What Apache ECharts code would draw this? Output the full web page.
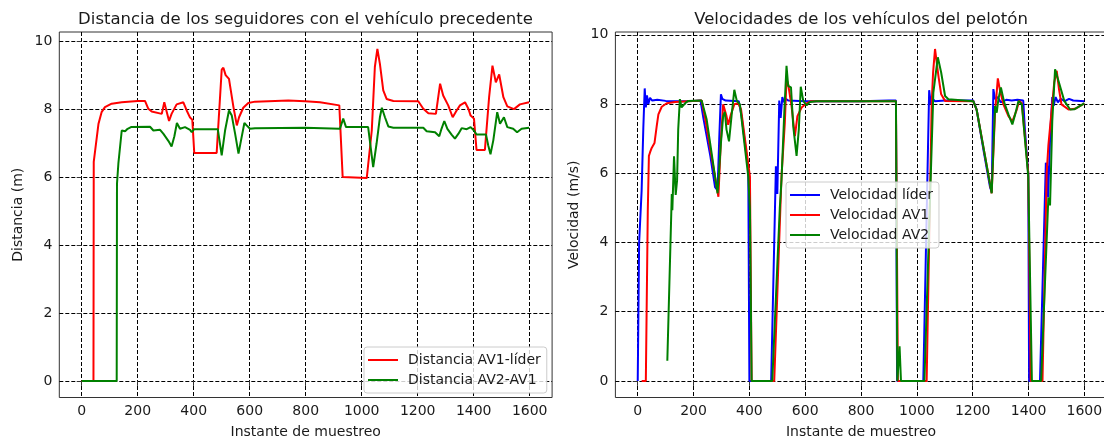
<!DOCTYPE html>
<html>
<head>
<meta charset="utf-8">
<script src="https://cdn.jsdelivr.net/npm/echarts@6/dist/echarts.min.js"></script>
<style>
html,body{margin:0;padding:0;background:#fff;}
#chart{width:1104px;height:439px;}
</style>
</head>
<body>
<div id="chart"></div>
<script>
// ---------- data ----------
const xTicks = [0, 200, 400, 600, 800, 1000, 1200, 1400, 1600];
const yTicks = [0, 2, 4, 6, 8, 10];

// Left: distances
const distAV1X = [0,42,43,48,60,71,83,107,143,200,226,238,250,286,295,304,312,321,339,363,375,387,395,402,482,500,506,514,521,526,542,554,562,577,595,619,738,798,851,920,932,934,1018,1036,1047,1056,1065,1077,1089,1113,1202,1220,1238,1265,1280,1291,1309,1325,1339,1351,1369,1381,1389,1401,1410,1440,1455,1467,1479,1491,1506,1520,1544,1565,1598];
const distAV1Y = [0,0,6.45,6.78,7.57,7.91,8.06,8.16,8.2,8.24,8.24,8.01,7.93,7.86,8.2,7.91,7.65,7.86,8.14,8.2,7.96,7.75,7.69,6.71,6.71,9.16,9.22,9.0,9.02,8.89,8.06,7.52,7.76,8.04,8.18,8.22,8.25,8.23,8.2,8.11,6.0,5.97,5.97,7.37,9.24,9.77,9.33,8.55,8.3,8.24,8.23,8.01,7.88,7.86,8.75,8.4,8.11,7.76,7.96,8.11,8.2,8.01,7.81,7.72,6.8,6.8,8.35,9.28,8.79,9.02,8.35,8.08,8.0,8.14,8.2];

const distAV2X = [0,125,126,131,143,149,155,164,176,244,256,280,292,310,321,331,340,351,369,387,393,402,486,500,512,526,536,548,560,569,581,589,601,619,798,922,934,944,1023,1032,1041,1053,1065,1072,1083,1095,1113,1220,1232,1262,1277,1285,1295,1306,1321,1333,1345,1357,1375,1389,1401,1410,1444,1452,1460,1470,1484,1494,1508,1520,1541,1555,1571,1598];
const distAV2Y = [0,0,5.8,6.4,7.37,7.39,7.35,7.42,7.47,7.48,7.37,7.39,7.27,7.06,6.9,7.2,7.59,7.42,7.47,7.39,7.32,7.41,7.41,6.64,7.37,7.96,7.81,7.27,6.69,7.08,7.59,7.52,7.42,7.44,7.45,7.42,7.72,7.47,7.47,6.88,6.29,6.98,7.76,8.04,7.76,7.49,7.45,7.45,7.35,7.32,7.2,7.42,7.65,7.42,7.25,7.13,7.27,7.44,7.41,7.47,7.37,7.25,7.25,6.93,6.67,7.08,7.91,7.57,7.76,7.47,7.42,7.32,7.42,7.45];

// Right: speeds
const velLiderX = [0,5,14,20,25,29,33,38,44,52,70,100,150,200,225,235,260,277,286,292,298,303,308,315,362,372,396,400,478,495,500,507,512,518,524,530,540,600,800,900,925,929,1023,1040,1044,1050,1056,1065,1100,1202,1214,1240,1262,1268,1274,1280,1290,1300,1320,1340,1360,1381,1387,1399,1402,1441,1462,1467,1470,1478,1485,1490,1497,1505,1515,1530,1545,1560,1600];
const velLiderY = [0,4,5.5,7.3,8.45,7.9,8.25,8.0,8.18,8.1,8.12,8.09,8.08,8.09,8.1,7.6,6.5,5.6,5.5,7.0,8.28,8.15,8.2,8.1,8.08,7.65,6.1,0,0,6.2,5.4,8.1,7.6,8.2,8.05,8.15,8.1,8.08,8.08,8.1,8.1,0,0,6.8,8.4,8.0,8.15,8.08,8.1,8.1,7.84,6.6,5.6,5.45,8.43,8.14,8.2,8.05,8.12,8.1,8.12,8.1,7.26,6.0,0,0,6.3,6.2,5.3,7.2,8.2,7.95,8.2,8.05,8.15,8.08,8.15,8.1,8.08];

const velAV1X = [14,29,36,40,44,50,60,68,74,86,104,134,229,241,289,298,306,318,324,334,346,360,370,402,408,489,515,527,533,539,551,563,572,587,605,620,925,932,1035,1053,1058,1065,1077,1087,1101,1202,1214,1268,1280,1290,1298,1310,1328,1342,1358,1366,1376,1399,1408,1450,1465,1471,1478,1492,1501,1509,1518,1543,1567,1600];
const velAV1Y = [0,0,4.9,6.5,6.6,6.73,6.87,7.36,7.7,7.92,8.02,8.06,8.1,7.6,5.32,6.97,7.99,7.65,7.4,7.7,7.99,8.02,7.85,5.9,0,0,5.9,7.46,8.72,8.57,7.94,7.07,7.65,7.9,8.02,8.08,8.08,0,0,8.0,8.9,9.59,8.82,8.28,8.09,8.08,7.84,5.42,7.75,8.74,8.38,7.99,7.65,7.5,7.84,8.09,8.02,6.0,0,0,6.0,6.8,6.8,8.62,8.96,8.43,7.99,7.84,7.86,8.02];

const velAV2X = [106,110,122,124,130,136,141,145,151,157,163,172,181,229,247,277,286,298,306,312,318,327,336,346,355,366,396,402,408,482,509,515,525,533,539,549,557,569,577,584,593,605,617,640,925,930,936,938,941,943,1027,1059,1075,1087,1101,1113,1202,1214,1268,1280,1286,1292,1301,1313,1328,1342,1352,1364,1376,1399,1412,1445,1471,1477,1485,1495,1509,1516,1528,1549,1565,1600];
const velAV2Y = [0.58,0.6,5.4,4.93,6.49,5.37,5.8,7.26,8.14,7.9,7.85,8.04,8.09,8.1,7.55,5.9,5.42,6.87,7.65,7.77,7.26,6.92,7.65,8.41,8.09,7.99,5.9,4.93,0,0,5.0,5.8,7.75,9.1,8.52,8.48,7.36,6.5,7.26,8.5,8.09,7.96,8.06,8.08,8.08,0,0,1.0,1.0,0,0,8.33,9.35,8.91,8.23,8.14,8.08,7.84,5.42,7.94,7.75,8.14,8.48,8.04,7.7,7.41,7.7,8.09,7.99,5.9,0,0,5.3,5.07,7.5,9.0,8.62,8.62,8.09,7.84,7.85,8.02];

// ---------- helpers ----------
function pairs(xs, ys){ return xs.map((x,i)=>[x, ys[i]]); }
const FONT = 'DejaVu Sans';
const txt = '#1a1a1a';
const FS = 14;

function xAxisCfg(grid){
  return {
    type:'value', gridIndex:grid, min:-80, max:1680,
    axisLine:{show:false},
    axisTick:{show:true, customValues:xTicks, length:5, lineStyle:{color:'#333', width:1}},
    axisLabel:{customValues:xTicks, fontSize:FS, color:txt, fontFamily:FONT, margin:7,
               formatter:function(v){return String(v);}},
    splitLine:{show:true, lineStyle:{color:'#000', type:[4,2], width:1}},
    name:'Instante de muestreo', nameLocation:'middle', nameGap:28,
    nameTextStyle:{fontSize:FS, color:txt, fontFamily:FONT}
  };
}
function yAxisCfg(grid, min, max, name){
  return {
    type:'value', gridIndex:grid, min:min, max:max,
    axisLine:{show:false},
    axisTick:{show:true, customValues:yTicks, length:5, lineStyle:{color:'#333', width:1}},
    axisLabel:{customValues:yTicks, fontSize:FS, color:txt, fontFamily:FONT, margin:7,
               formatter:function(v){return String(v);}},
    splitLine:{show:true, lineStyle:{color:'#000', type:[4,2], width:1}},
    name:name, nameLocation:'middle', nameGap:34, nameRotate:90,
    nameTextStyle:{fontSize:FS, color:txt, fontFamily:FONT}
  };
}
function lineSeries(name, color, xi, data){
  return {
    name:name, type:'line', xAxisIndex:xi, yAxisIndex:xi, data:data,
    showSymbol:false, symbol:'none', animation:false,
    lineStyle:{color:color, width:2}, itemStyle:{color:color},
    emphasis:{disabled:true}
  };
}
function legendCfg(names, left, top){
  return {
    data:names, orient:'vertical', left:left, top:top,
    icon:'rect', itemWidth:30, itemHeight:2, itemGap:6, padding:[6,6,6,4],
    backgroundColor:'rgba(255,255,255,0.8)', borderColor:'#ccc', borderWidth:1, borderRadius:3,
    textStyle:{fontSize:FS, color:txt, fontFamily:FONT, lineHeight:14, padding:[0,0,0,5]},
    selectedMode:false
  };
}

const chart = echarts.init(document.getElementById('chart'), null, {renderer:'canvas'});
chart.setOption({
  animation:false,
  backgroundColor:'#fff',
  title:[
    {text:'Distancia de los seguidores con el vehículo precedente', left:300.5, top:6, textAlign:'center',
     textStyle:{fontSize:16.5, fontWeight:'normal', color:txt, fontFamily:FONT}},
    {text:'Velocidades de los vehículos del pelotón', left:856, top:6, textAlign:'center',
     textStyle:{fontSize:16.5, fontWeight:'normal', color:txt, fontFamily:FONT}}
  ],
  grid:[
    {left:59.3, top:32, width:492.8, height:365.5, show:true, borderColor:'#333', borderWidth:1,
     backgroundColor:'transparent', containLabel:false, outerBoundsMode:'none'},
    {left:615.4, top:32, width:491.3, height:365.5, show:true, borderColor:'#333', borderWidth:1,
     backgroundColor:'transparent', containLabel:false, outerBoundsMode:'none'}
  ],
  xAxis:[xAxisCfg(0), xAxisCfg(1)],
  yAxis:[yAxisCfg(0, -0.489, 10.27, 'Distancia (m)'), yAxisCfg(1, -0.48, 10.08, 'Velocidad (m/s)')],
  legend:[
    legendCfg(['Distancia AV1-líder','Distancia AV2-AV1'], 364, 347),
    legendCfg(['Velocidad líder','Velocidad AV1','Velocidad AV2'], 786, 182)
  ],
  series:[
    lineSeries('Distancia AV1-líder', '#ff0000', 0, pairs(distAV1X, distAV1Y)),
    lineSeries('Distancia AV2-AV1', '#008000', 0, pairs(distAV2X, distAV2Y)),
    lineSeries('Velocidad líder', '#0000ff', 1, pairs(velLiderX, velLiderY)),
    lineSeries('Velocidad AV1', '#ff0000', 1, pairs(velAV1X, velAV1Y)),
    lineSeries('Velocidad AV2', '#008000', 1, pairs(velAV2X, velAV2Y))
  ]
});
</script>
</body>
</html>
